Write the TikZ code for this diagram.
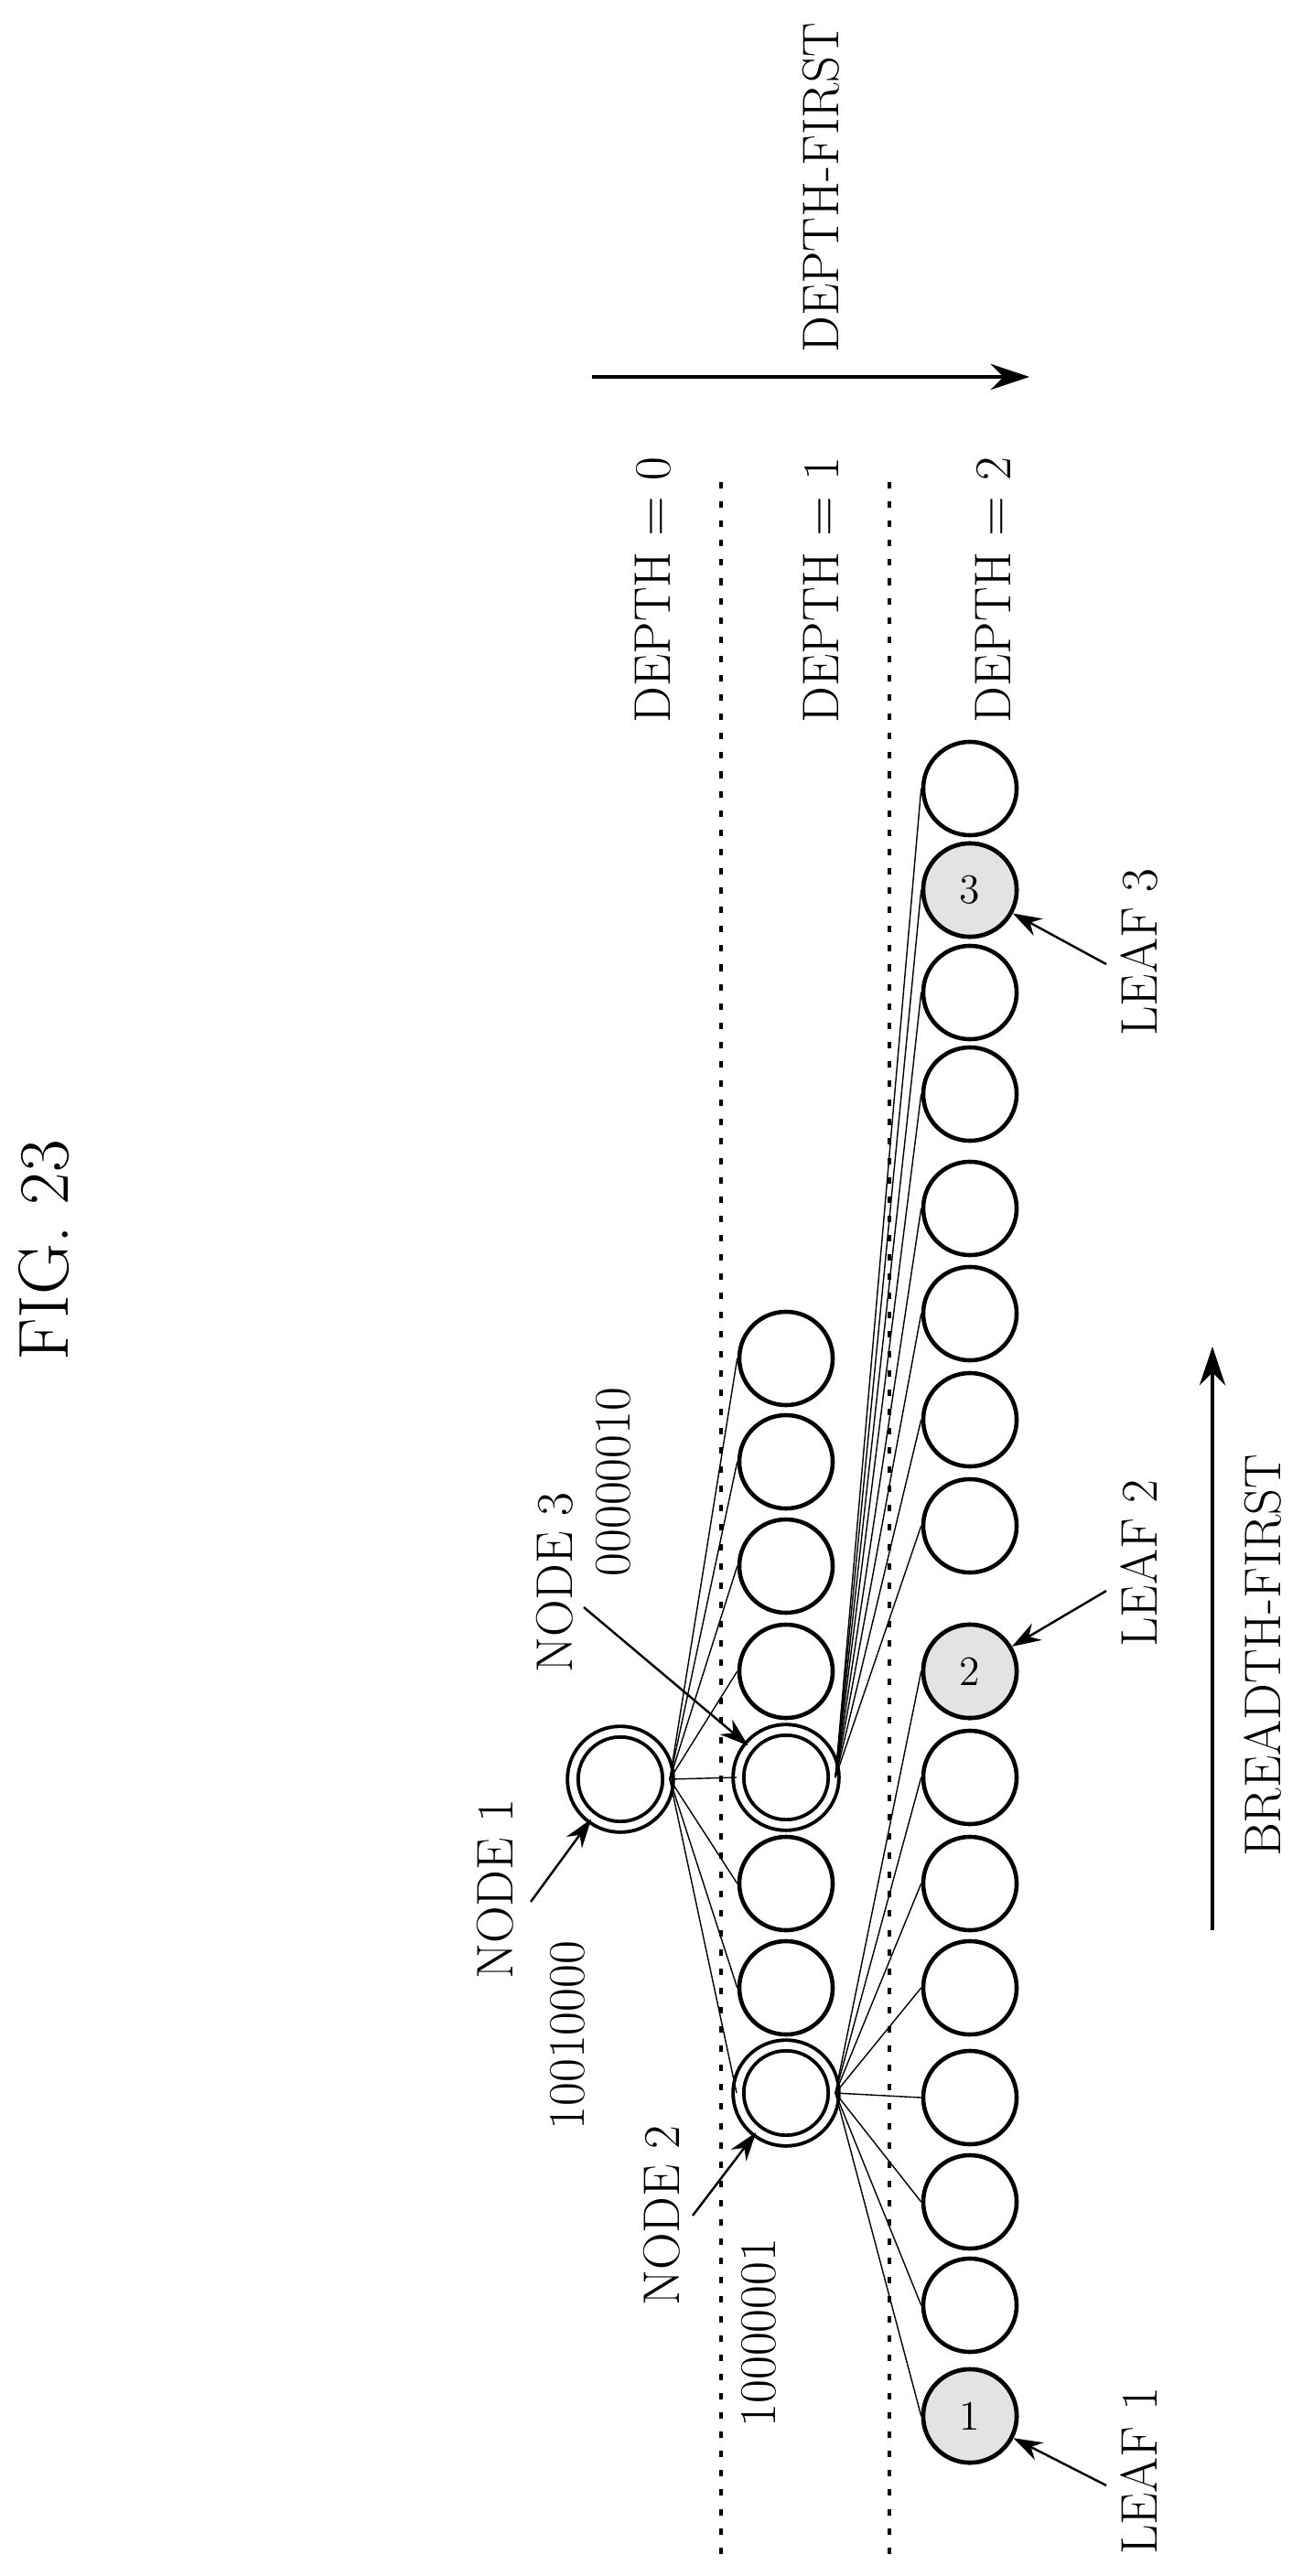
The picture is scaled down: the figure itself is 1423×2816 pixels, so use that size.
\documentclass[tikz,border=0pt]{standalone}
\usetikzlibrary{arrows.meta}
\begin{document}
\begin{tikzpicture}[x=0.01cm,y=-0.01cm,
  circ/.style={circle,draw,line width=1.3pt,minimum size=1.02cm,inner sep=0pt},
  dcirc/.style={circle,draw,double,double distance=2.2pt,line width=1.1pt,minimum size=1.04cm,inner sep=0pt},
  leafc/.style={circ,fill=gray!22,font=\fontsize{13}{13}\selectfont},
  lbl/.style={rotate=90,font=\fontsize{16}{18}\selectfont,inner sep=0pt},
  edge/.style={line width=0.4pt},
  pointer/.style={line width=0.7pt,-{Stealth[length=9pt,width=6pt]}},
  sep/.style={line width=1pt,dash pattern=on 2pt off 4pt}]
\useasboundingbox (0,0) rectangle (1423,2816);
% title
\node[lbl,font=\fontsize{22}{24}\selectfont] (fig) at (48,1367) {FIG. 23};
% depth-first arrow
\coordinate (dfa) at (647,412); \coordinate (dfb) at (1125,412);
\draw[line width=1.2pt,-{Stealth[length=12pt,width=8pt]}] (dfa) -- (dfb);
\node[lbl] (dflbl) at (897,205) {DEPTH-FIRST};
\node[lbl] (d0) at (714,645) {DEPTH $=$ 0};
\node[lbl] (d1) at (897,645) {DEPTH $=$ 1};
\node[lbl] (d2) at (1085,645) {DEPTH $=$ 2};
% separators
\coordinate (s1a) at (788,527); \coordinate (s1b) at (788,2800);
\coordinate (s2a) at (972,527); \coordinate (s2b) at (972,2800);
\draw[sep] (s1a) -- (s1b);
\draw[sep] (s2a) -- (s2b);
% nodes
\node[dcirc] (n1) at (678,1945) {};
\foreach \y [count=\i] in {1485,1598,1712,1827,1943,2059,2173,2288}{
  \ifnum\i=5 \node[dcirc] (a\i) at (859,\y) {};
  \else\ifnum\i=8 \node[dcirc] (a\i) at (859,\y) {};
  \else \node[circ] (a\i) at (859,\y) {}; \fi\fi
}
\foreach \y [count=\i] in {862,973,1085,1196,1321,1436,1552,1668,1827,1943,2059,2173,2293,2407,2520,2641}{
  \node[circ] (b\i) at (1060,\y) {};
}
\node[leafc] at (b2) {3};
\node[leafc] at (b9) {2};
\node[leafc] at (b16) {1};
% edges
\foreach \i in {1,...,8}{\draw[edge] (n1.east) -- (a\i.west);}
\foreach \i in {1,...,8}{\draw[edge] (a5.east) -- (b\i.west);}
\foreach \i in {9,...,16}{\draw[edge] (a8.east) -- (b\i.west);}
% labels
\node[lbl] (ln1) at (541,2065) {NODE 1};
\node[lbl] (cn1) at (620,2225) {10010000};
\coordinate (tn1) at (580,2079);
\draw[pointer] (tn1) -- (n1);
\node[lbl] (ln2) at (723,2422) {NODE 2};
\node[lbl] (cn2) at (829,2550) {10000001};
\coordinate (tn2) at (757,2422);
\draw[pointer] (tn2) -- (a8);
\node[lbl] (ln3) at (606,1730) {NODE 3};
\node[lbl] (cn3) at (670,1620) {00000010};
\coordinate (tn3) at (638,1757);
\draw[pointer] (tn3) -- (a5);
\node[lbl] (lf3) at (1245,1041) {LEAF 3};
\coordinate (tl3) at (1209,1054);
\draw[pointer] (tl3) -- (b2);
\node[lbl] (lf2) at (1245,1709) {LEAF 2};
\coordinate (tl2) at (1209,1739);
\draw[pointer] (tl2) -- (b9);
\node[lbl] (lf1) at (1245,2701) {LEAF 1};
\coordinate (tl1) at (1209,2717);
\draw[pointer] (tl1) -- (b16);
% breadth-first
\coordinate (bfa) at (1325,2110); \coordinate (bfb) at (1325,1472);
\draw[line width=1.2pt,-{Stealth[length=12pt,width=8pt]}] (bfa) -- (bfb);
\node[lbl] (bflbl) at (1380,1810) {BREADTH-FIRST};
\end{tikzpicture}
\end{document}
